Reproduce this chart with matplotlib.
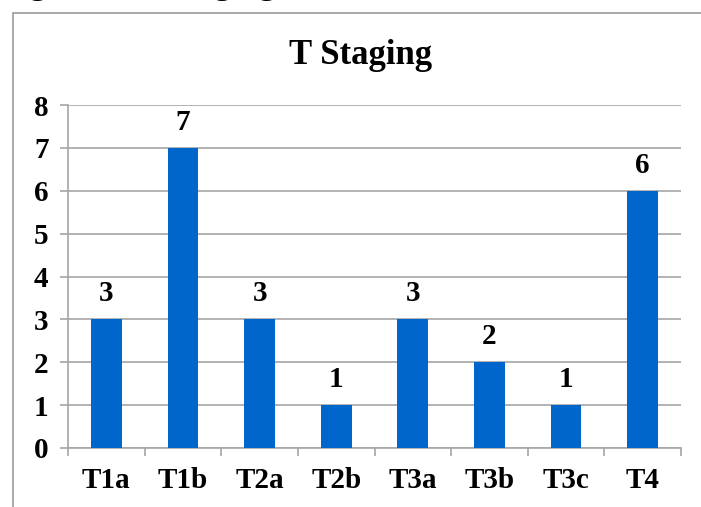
import numpy as np
import matplotlib
matplotlib.use("Agg")
from matplotlib import pyplot as plt
from matplotlib.patches import Rectangle

# data
categories = ["T1a", "T1b", "T2a", "T2b", "T3a", "T3b", "T3c", "T4"]
counts = [3, 7, 3, 1, 3, 2, 1, 6]
y_ticks = [0, 1, 2, 3, 4, 5, 6, 7, 8]

plt.rcParams['font.family'] = ['Liberation Serif', 'DejaVu Serif']
plt.rcParams['font.weight'] = 'bold'

fig = plt.figure(figsize=(7.01, 5.07), dpi=100)
ax = fig.add_axes([68 / 701, 1 - 448 / 507, (681 - 68) / 701, (448 - 105) / 507])

grey = '#a6a6a6'
x = np.arange(len(categories))
ax.bar(x, counts, width=0.4, color='#0066cc', zorder=3)

for xi, v in zip(x, counts):
    ax.text(xi, v + 0.28, str(v), ha='center', va='bottom',
            fontsize=21, fontweight='bold')

ax.set_xlim(-0.5, len(categories) - 0.5)
ax.set_ylim(0, 8)
ax.set_yticks(y_ticks)
ax.set_yticklabels([str(t) for t in y_ticks], fontsize=21, fontweight='bold')
ax.yaxis.grid(True, color=grey, linewidth=1.2, zorder=0)

# category labels in the middle, tick marks on the boundaries
ax.set_xticks(np.arange(-0.5, len(categories), 1.0))
ax.set_xticklabels([])
ax.set_xticks(x, minor=True)
ax.set_xticklabels(categories, minor=True, fontsize=21, fontweight='bold')
ax.tick_params(axis='x', which='minor', length=0, pad=14)
ax.tick_params(axis='x', which='major', length=6, color=grey, width=1.2)
ax.tick_params(axis='y', length=6, color=grey, width=1.2, pad=8)

for side in ['top', 'right']:
    ax.spines[side].set_visible(False)
for side in ['left', 'bottom']:
    ax.spines[side].set_color(grey)
    ax.spines[side].set_linewidth(1.2)

fig.text(0.515, 1 - 55 / 507, "T Staging", ha='center', va='center',
         fontsize=25, fontweight='bold')

# outer chart frame, cut by the page edge
fig.patches.append(Rectangle((13 / 701, -0.1), 1.2, 1 - 13 / 507 + 0.1,
                             transform=fig.transFigure, fill=False,
                             edgecolor='#999999', linewidth=1.2))

# caption above the frame, mostly cut off
fig.text(0.0, 1 + 6 / 507, "Figure 4: T Staging", ha='left', va='baseline',
         fontsize=24, fontweight='bold')

plt.savefig('out.png', dpi=100)
